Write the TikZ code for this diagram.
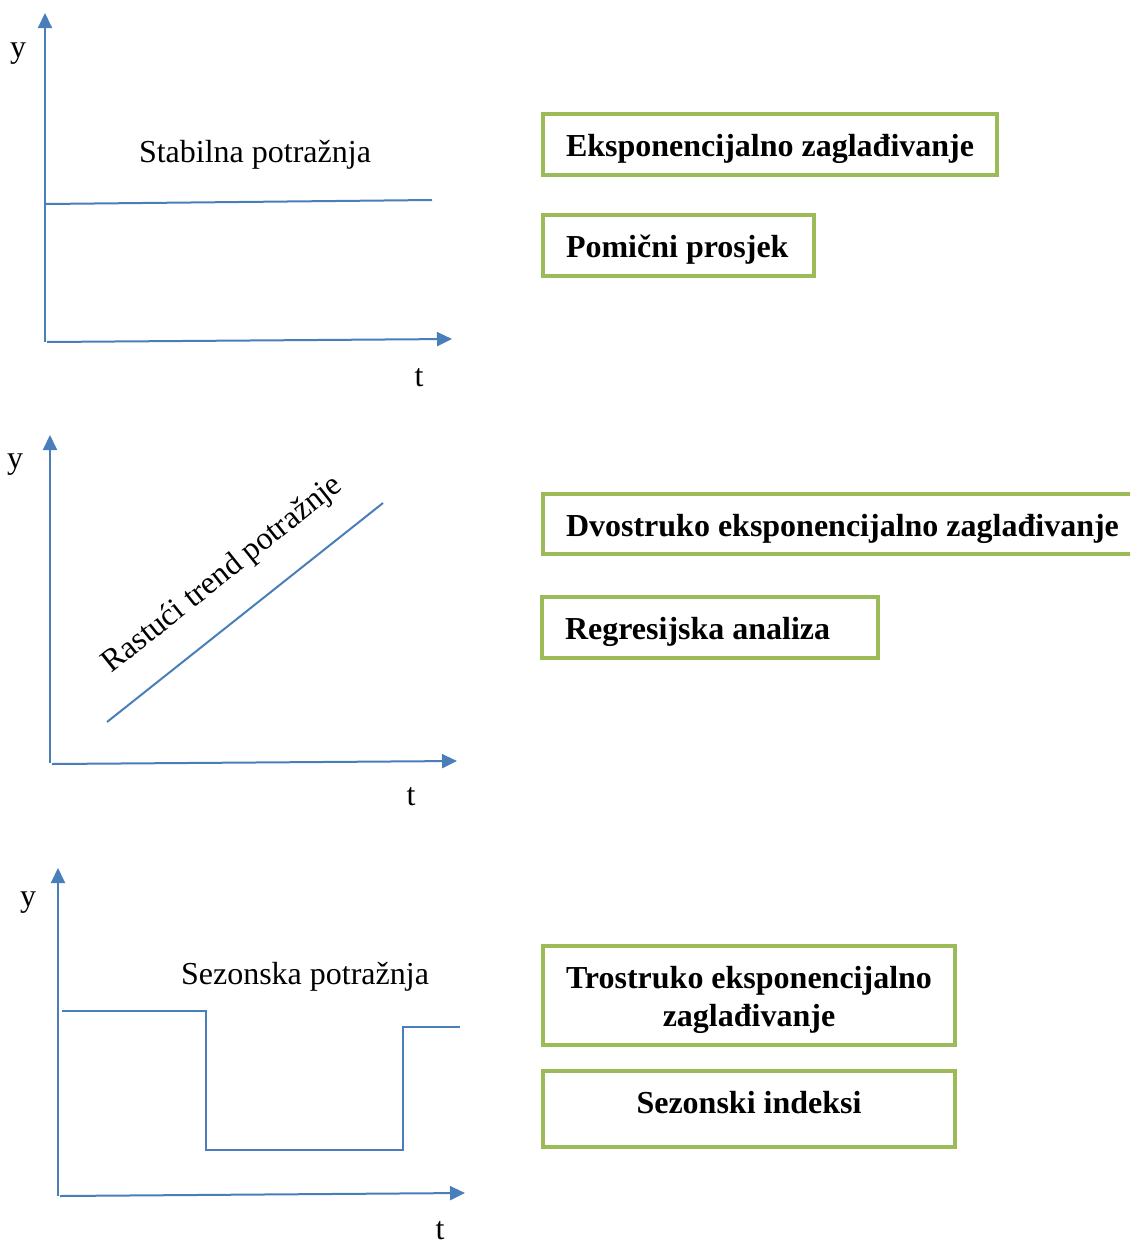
\documentclass[tikz,border=0pt]{standalone}
\usepackage{fontspec}
\setmainfont{Liberation Serif}
\usetikzlibrary{arrows.meta}
\definecolor{lineblue}{HTML}{4A7EBB}
\definecolor{boxgreen}{HTML}{9BBB59}
\begin{document}
\begin{tikzpicture}[x=1pt,y=-1pt,
  axis/.style={draw=lineblue, line width=2pt, -{Triangle[length=15pt,width=14pt]}},
  curve/.style={draw=lineblue, line width=2pt},
  lbl/.style={font=\fontsize{32}{38}\selectfont, inner sep=0pt},
  box/.style={draw=boxgreen, line width=4pt, font=\fontsize{32}{38}\selectfont\bfseries,
              anchor=north west, outer sep=0pt, inner xsep=23pt, inner ysep=0pt},
  onebox/.style={box, text height=42pt},
]
\useasboundingbox (0,0) rectangle (1130,1242);
\clip (0,0) rectangle (1130,1242);

% ---------- Panel 1: stable demand ----------
\coordinate (o1) at (45,342);
\coordinate (o1x) at (47,342);
\coordinate (y1) at (45,13);
\coordinate (t1) at (452,339);
\draw[axis] (o1) -- (y1);
\draw[axis] (o1x) -- (t1);
\coordinate (s1a) at (46,204);
\coordinate (s1b) at (432,200);
\draw[curve] (s1a) -- (s1b);
\node[lbl] (lab1) at (255,155) {Stabilna potražnja};
\node[lbl] (ylab1) at (18,54) {y};
\node[lbl] (tlab1) at (419,378) {t};

% ---------- Panel 2: growing trend ----------
\coordinate (o2) at (50,763);
\coordinate (o2x) at (52,764);
\coordinate (y2) at (50,435);
\coordinate (t2) at (457,761);
\draw[axis] (o2) -- (y2);
\draw[axis] (o2x) -- (t2);
\coordinate (d2a) at (107,722);
\coordinate (d2b) at (383,503);
\draw[curve] (d2a) -- (d2b);
\node[lbl, rotate=38.6] (lab2) at (223,575) {Rastući trend potražnje};
\node[lbl] (ylab2) at (15,465) {y};
\node[lbl] (tlab2) at (411,797) {t};

% ---------- Panel 3: seasonal demand ----------
\coordinate (o3) at (58,1196);
\coordinate (o3x) at (60,1196);
\coordinate (y3) at (58,868);
\coordinate (t3) at (465,1193);
\draw[axis] (o3) -- (y3);
\draw[axis] (o3x) -- (t3);
\coordinate (p1) at (62,1011);
\coordinate (p2) at (206,1011);
\coordinate (p3) at (206,1150);
\coordinate (p4) at (403,1150);
\coordinate (p5) at (403,1027);
\coordinate (p6) at (460,1027);
\draw[curve] (p1) -- (p2) -- (p3) -- (p4) -- (p5) -- (p6);
\node[lbl] (lab3) at (305,977) {Sezonska potražnja};
\node[lbl] (ylab3) at (28,903) {y};
\node[lbl] (tlab3) at (440,1231) {t};

% ---------- Method boxes ----------
\node[onebox, minimum width=453pt, text depth=19pt] (b1) at (543,114)
  {Eksponencijalno zaglađivanje};
\node[onebox, text depth=19pt] (b2) at (543,215)
  {\makebox[225pt][l]{Pomični prosjek}};
\node[onebox, text depth=18pt] (b3) at (543,494)
  {\makebox[600pt][l]{Dvostruko eksponencijalno zaglađivanje}};
\node[onebox, text depth=19pt] (b4) at (542,597)
  {\makebox[290pt][l]{Regresijska analiza}};
\node[box, minimum width=412pt, minimum height=99pt, align=center] (b5) at (543,946)
  {\rule{0pt}{32pt}Trostruko eksponencijalno\\zaglađivanje};
\node[onebox, minimum width=412pt, text depth=34pt] (b6) at (543,1071)
  {Sezonski indeksi};
\end{tikzpicture}
\end{document}
